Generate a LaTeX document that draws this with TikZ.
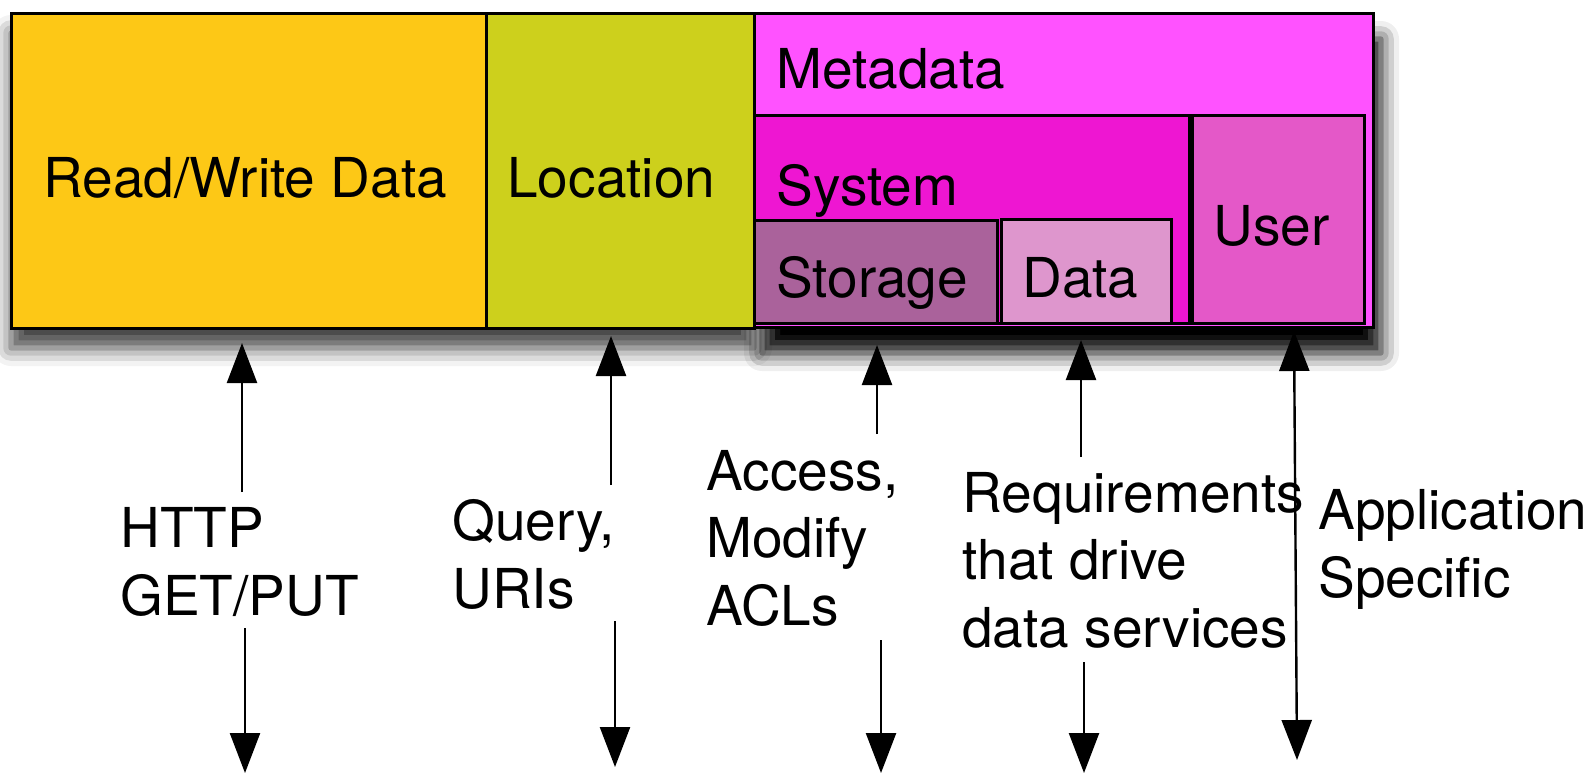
\documentclass[tikz,border=0pt]{standalone}
\usepackage{fontspec}
\setmainfont{TeX Gyre Heros}
\usetikzlibrary{arrows.meta,shadows.blur}
\definecolor{rwcol}{RGB}{253,200,22}
\definecolor{loccol}{RGB}{205,208,28}
\definecolor{metacol}{RGB}{255,82,255}
\definecolor{syscol}{RGB}{238,22,210}
\definecolor{storcol}{RGB}{170,98,155}
\definecolor{datacol}{RGB}{222,150,205}
\definecolor{usercol}{RGB}{228,88,200}
\begin{document}
\begin{tikzpicture}[x=0.5pt,y=-0.5pt,
  box/.style={draw=black, line width=1.5pt, inner sep=0pt, outer sep=0pt, anchor=north west},
  lightshadow/.style={blur shadow={shadow xshift=0pt, shadow yshift=-10pt, shadow blur radius=9pt, shadow opacity=75}},
  darkshadow/.style={blur shadow={shadow xshift=4pt, shadow yshift=-13pt, shadow blur radius=9pt, shadow opacity=100}},
  lbl/.style={inner sep=0pt, anchor=base west, font=\fontsize{27.5}{33.75}\selectfont},
  mlbl/.style={lbl, align=left},
  arr/.style={draw=black, line width=1.2pt, -{Triangle[length=20pt,width=15pt,fill=black]}},
  darr/.style={draw=black, line width=1.2pt, {Triangle[length=20pt,width=15pt,fill=black]}-{Triangle[length=20pt,width=15pt,fill=black]}}]
\useasboundingbox (0,0) rectangle (1593,773);

% drop shadows (drawn first, behind every box)
\begin{scope}
\path[lightshadow] (11,13) rectangle (754,328);
\end{scope}
\begin{scope}
\path[darkshadow] (754,13) rectangle (1373,327);
\end{scope}

% boxes
\node[box, fill=rwcol, minimum width=237.5pt, minimum height=157.5pt] (rw) at (11,13) {};
\node[box, fill=loccol, minimum width=134pt, minimum height=157.5pt] (loc) at (486,13) {};
\node[box, fill=metacol, minimum width=309.5pt, minimum height=157pt] (meta) at (754,13) {};
\node[box, fill=syscol, minimum width=217.5pt, minimum height=104pt] (sys) at (754,115) {};
\node[box, fill=usercol, minimum width=86pt, minimum height=104pt] (user) at (1192,115) {};
\node[box, fill=storcol, minimum width=121.5pt, minimum height=51.5pt] (stor) at (754,220) {};
\node[box, fill=datacol, minimum width=85pt, minimum height=52pt] (data) at (1001,219) {};

% box labels
\node[lbl] (trw) at (43,197) {Read/Write Data};
\node[lbl] (tloc) at (507,197) {Location};
\node[lbl] (tmeta) at (776,88) {Metadata};
\node[lbl] (tsys) at (776,205) {System};
\node[lbl] (tstor) at (776,297) {Storage};
\node[lbl] (tdata) at (1022,297) {Data};
\node[lbl] (tuser) at (1213,245) {User};

% arrow labels (anchor at baseline of last line)
\node[mlbl] (l1) at (120,615) {HTTP\\GET/PUT};
\node[mlbl] (l2) at (452,608) {Query,\\URIs};
\node[mlbl] (l3) at (706,625) {Access,\\Modify\\ACLs};
\node[mlbl] (l4) at (962,647) {Requirements\\that drive\\data services};
\node[mlbl] (l5) at (1318,597) {Application\\Specific};

% arrow coordinates
\coordinate (a1t) at (242,343); \coordinate (a1a) at (242,492);
\coordinate (a1b) at (245,628); \coordinate (a1e) at (245,773);
\coordinate (a2t) at (611,336); \coordinate (a2a) at (611,485);
\coordinate (a2b) at (615,621); \coordinate (a2e) at (615,767);
\coordinate (a3t) at (877,345); \coordinate (a3a) at (877,434);
\coordinate (a3b) at (881,640); \coordinate (a3e) at (881,773);
\coordinate (a4t) at (1081,340); \coordinate (a4a) at (1081,457);
\coordinate (a4b) at (1084,662); \coordinate (a4e) at (1084,773);
\coordinate (a5t) at (1294,331); \coordinate (a5e) at (1297,760);

\draw[arr] (a1a) -- (a1t);
\draw[arr] (a1b) -- (a1e);
\draw[arr] (a2a) -- (a2t);
\draw[arr] (a2b) -- (a2e);
\draw[arr] (a3a) -- (a3t);
\draw[arr] (a3b) -- (a3e);
\draw[arr] (a4a) -- (a4t);
\draw[arr] (a4b) -- (a4e);
\draw[darr] (a5t) -- (a5e);
\end{tikzpicture}
\end{document}
